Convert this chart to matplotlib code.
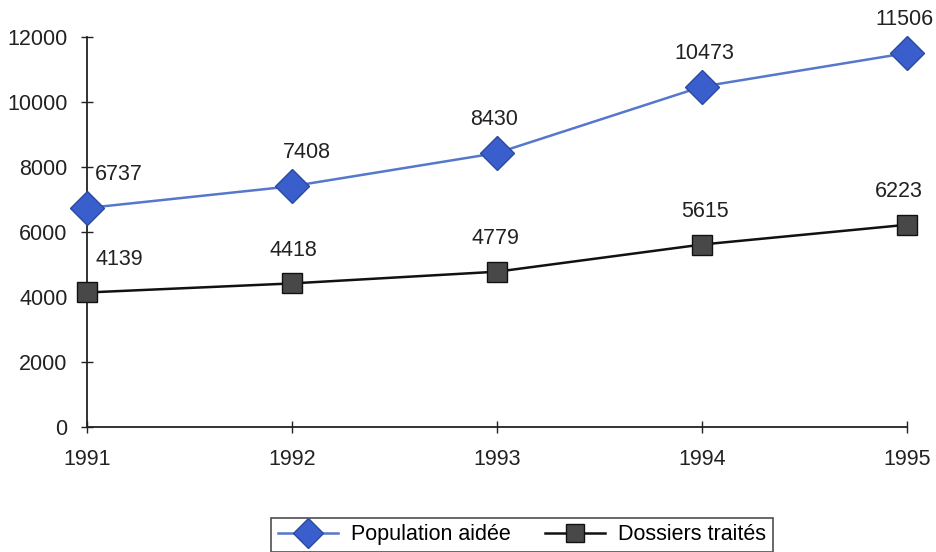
import matplotlib
matplotlib.use("Agg")
import matplotlib.pyplot as plt

years = [1991, 1992, 1993, 1994, 1995]
population = [6737, 7408, 8430, 10473, 11506]
dossiers = [4139, 4418, 4779, 5615, 6223]
yticks = [0, 2000, 4000, 6000, 8000, 10000, 12000]

plt.rcParams['font.family'] = ['Liberation Sans', 'DejaVu Sans']
FS = 15.5

fig = plt.figure(figsize=(9.36, 5.52), dpi=100)
ax = fig.add_axes([87/936, 125/552, 820/936, 390/552])

l1, = ax.plot(years, population, color='#5577cc', lw=1.8, marker='D', ms=17,
              markerfacecolor='#3a5fcd', markeredgecolor='#2a4aa0', mew=1,
              clip_on=False, zorder=3, label='Population aidée')
l2, = ax.plot(years, dossiers, color='#111111', lw=1.8, marker='s', ms=14,
              markerfacecolor='#484848', markeredgecolor='#111111', mew=1,
              clip_on=False, zorder=3, label='Dossiers traités')

pop_dx = [23, 11, -2, 2, -2]
dos_dx = [23, 1, -1, 2, -6]
for x, y, dx in zip(years, population, pop_dx):
    ax.annotate(str(y), (x, y), xytext=(dx, 24), textcoords='offset points',
                ha='center', va='center', fontsize=FS, color='#222222')
for x, y, dx in zip(years, dossiers, dos_dx):
    ax.annotate(str(y), (x, y), xytext=(dx, 24), textcoords='offset points',
                ha='center', va='center', fontsize=FS, color='#222222')

ax.set_xlim(1991, 1995)
ax.set_ylim(0, 12000)
ax.set_xticks(years)
ax.set_yticks(yticks)
ax.tick_params(axis='both', direction='inout', length=8, width=1, labelsize=FS,
               colors='#222222')
ax.tick_params(axis='y', pad=10)
ax.tick_params(axis='x', pad=12)
for s in ['top', 'right']:
    ax.spines[s].set_visible(False)
for s in ['left', 'bottom']:
    ax.spines[s].set_linewidth(1.3)
    ax.spines[s].set_color('#222222')

leg = fig.legend(handles=[l1, l2], loc='upper center',
                 bbox_to_anchor=(522/936, 1 - 518/552), ncol=2,
                 fontsize=FS, frameon=True, fancybox=False, edgecolor='#222222',
                 handlelength=2.8, columnspacing=1.6, borderpad=0.3,
                 handletextpad=0.6, markerscale=0.9, borderaxespad=0)
leg.get_frame().set_linewidth(1.2)

fig.savefig('out.png', dpi=100)
